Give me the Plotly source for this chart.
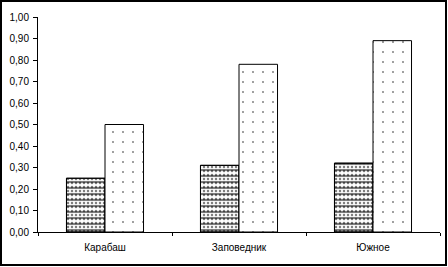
import plotly.graph_objects as go

categories = ["Карабаш", "Заповедник", "Южное"]
series_a = [0.25, 0.31, 0.32]
series_b = [0.50, 0.78, 0.89]
y_ticks = [0.0, 0.1, 0.2, 0.3, 0.4, 0.5, 0.6, 0.7, 0.8, 0.9, 1.0]

L, R, T, B = 38, 8, 17, 35
W, H = 448, 267
pw, ph = W - L - R, H - T - B

fig = go.Figure()
fig.add_trace(go.Bar(
    x=categories, y=series_a, offsetgroup="a",
    marker=dict(color="white", line=dict(color="black", width=1),
                pattern=dict(shape=".", fgcolor="black", bgcolor="white", size=4, solidity=0.3)),
    showlegend=False))
fig.add_trace(go.Bar(
    x=categories, y=series_a, offsetgroup="a",
    marker=dict(color="rgba(0,0,0,0)", line=dict(color="black", width=1),
                pattern=dict(shape="-", fgcolor="black", bgcolor="rgba(0,0,0,0)", size=6, solidity=0.35)),
    showlegend=False))
fig.add_trace(go.Bar(
    x=categories, y=series_b, offsetgroup="b",
    marker=dict(color="white", line=dict(color="black", width=1),
                pattern=dict(shape=".", fgcolor="black", bgcolor="white", size=10, solidity=0.03)),
    showlegend=False))

fig.update_layout(
    width=W, height=H,
    margin=dict(l=L, r=R, t=T, b=B, autoexpand=False),
    paper_bgcolor="white", plot_bgcolor="white",
    barmode="group", bargap=0.425, bargroupgap=0,
    separators=",.",
    font=dict(family="Liberation Sans, Arial, sans-serif", size=10, color="black"),
)
fig.update_yaxes(range=[0, 1], tickvals=y_ticks, tickformat=".2f", automargin=False,
                 showgrid=False, zeroline=False, showline=True, linecolor="black", linewidth=1,
                 ticks="outside", ticklen=4, tickcolor="black", ticklabelstandoff=2)
fig.update_xaxes(showgrid=False, showline=True, linecolor="black", linewidth=1, automargin=False,
                 ticks="outside", tickson="boundaries", ticklen=3, tickcolor="black",
                 ticklabelstandoff=6)

fig.add_shape(type="rect", xref="paper", yref="paper",
              x0=(1 - L) / pw, x1=(W - 2 - L) / pw,
              y0=-(H - 2 - T - ph) / ph, y1=(ph + T - 1) / ph,
              line=dict(color="black", width=2), fillcolor="rgba(0,0,0,0)", layer="above")

fig.write_html("out.html", config={"displayModeBar": False},
               post_script="document.body.style.margin='0';document.body.style.overflow='hidden';")
